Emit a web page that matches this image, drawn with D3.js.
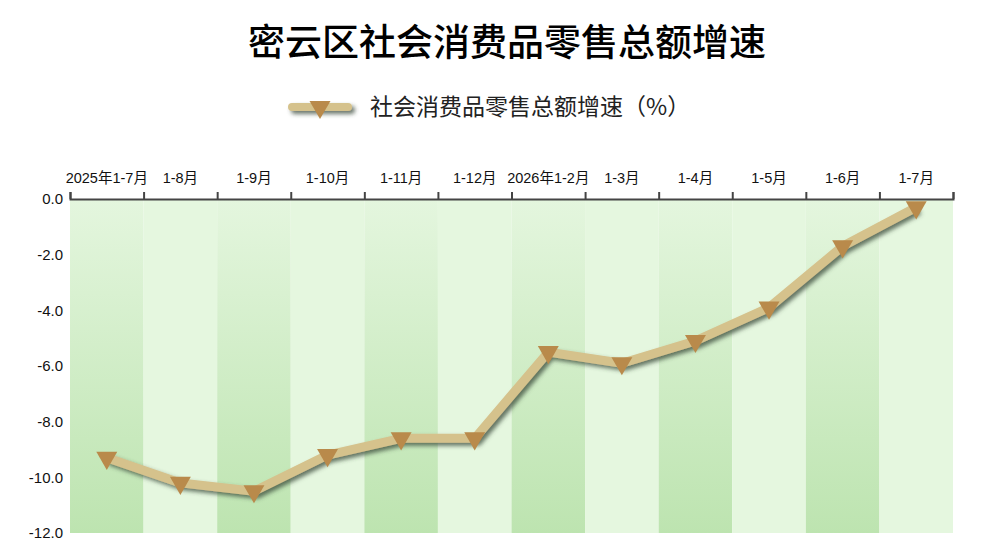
<!DOCTYPE html>
<html>
<head>
<meta charset="utf-8">
<script src="https://cdn.jsdelivr.net/npm/d3@7"></script>
<style>
  body { margin: 0; background: #fff; }
  svg { display: block; }
</style>
</head>
<body>
<svg width="987" height="557"></svg>
<script>
// data
var months = ["2025年1-7月", "1-8月", "1-9月", "1-10月", "1-11月", "1-12月",
              "2026年1-2月", "1-3月", "1-4月", "1-5月", "1-6月", "1-7月"];
var growth = [-9.3, -10.2, -10.5, -9.2, -8.6, -8.6, -5.5, -5.9, -5.1, -3.9, -1.7, -0.3];
var yTicks = [0, -2, -4, -6, -8, -10, -12];

var title = "密云区社会消费品零售总额增速";
var seriesName = "社会消费品零售总额增速（%）";

var svg = d3.select("svg");
var plotL = 70, plotR = 953, plotT = 199, plotB = 533;

var x = d3.scaleBand().domain(months).range([plotL, plotR]).padding(0);
var y = d3.scaleLinear().domain([-12, 0]).range([plotB, plotT]);
var edge = d3.scaleLinear().domain([0, months.length]).range([plotL, plotR]);

var defs = svg.append("defs");
var grad = defs.append("linearGradient").attr("id", "band")
    .attr("x1", 0).attr("y1", 0).attr("x2", 0).attr("y2", 1);
grad.append("stop").attr("offset", "0%").attr("stop-color", "#e4f6de");
grad.append("stop").attr("offset", "100%").attr("stop-color", "#bde4b0");

var shadow = defs.append("filter").attr("id", "shadow")
    .attr("filterUnits", "userSpaceOnUse")
    .attr("x", -500).attr("y", -300).attr("width", 2000).attr("height", 1200);
shadow.append("feDropShadow").attr("dx", 3).attr("dy", 3).attr("stdDeviation", 2)
    .attr("flood-color", "#3a4a3a").attr("flood-opacity", 0.75);

// title + legend
svg.append("text").attr("x", 507).attr("y", 56).attr("text-anchor", "middle")
    .style("font-family", "'Noto Sans CJK SC'").style("font-size", "37px")
    .style("font-weight", 500).attr("fill", "#000").text(title);

var lg = svg.append("g").attr("transform", "translate(320,107)");
lg.append("line").attr("x1", -28).attr("x2", 28)
    .attr("stroke", "#d5c28c").attr("stroke-width", 8).attr("stroke-linecap", "round")
    .attr("filter", "url(#shadow)");
lg.append("path").attr("d", d3.symbol(d3.symbolTriangle, 190)())
    .attr("transform", "rotate(180)").attr("fill", "#b98a4b");
svg.append("text").attr("x", 370).attr("y", 115)
    .style("font-family", "'Noto Sans CJK SC'").style("font-size", "23px")
    .attr("fill", "#222").text(seriesName);

// background bands
svg.append("g").selectAll("rect").data(months).enter().append("rect")
    .attr("x", function(d) { return x(d); })
    .attr("y", plotT)
    .attr("width", x.bandwidth())
    .attr("height", plotB - plotT)
    .attr("fill", function(d, i) { return i % 2 == 0 ? "url(#band)" : "#e5f7df"; });

// top axis: boundary ticks + labels
svg.append("g").attr("transform", "translate(0," + plotT + ")")
    .call(d3.axisTop(edge).tickValues(d3.range(months.length + 1)).tickSize(7).tickFormat(""))
    .call(function(g) {
      g.selectAll("path, line").attr("stroke", "#444").attr("stroke-width", 2);
    });

svg.append("g").attr("transform", "translate(0," + (plotT - 13) + ")")
    .call(d3.axisTop(x).tickSize(0))
    .call(function(g) {
      g.select(".domain").remove();
      g.selectAll("text").style("font-family", "Arial, 'Liberation Sans', 'Noto Sans CJK SC'")
        .style("font-size", "14.5px").attr("fill", "#111");
    });

// left axis labels
svg.append("g").attr("transform", "translate(" + (plotL - 4) + ",0)")
    .call(d3.axisLeft(y).tickValues(yTicks).tickSize(0)
      .tickFormat(function(d) { return d.toFixed(1); }))
    .call(function(g) {
      g.select(".domain").remove();
      g.selectAll("text").style("font-family", "Arial, 'Liberation Sans'")
        .style("font-size", "15px").attr("fill", "#111");
    });

// series
var pts = months.map(function(m, i) { return [x(m) + x.bandwidth() / 2, y(growth[i])]; });

svg.append("path").datum(pts)
    .attr("d", d3.line())
    .attr("fill", "none")
    .attr("stroke", "#d5c28c")
    .attr("stroke-width", 9)
    .attr("stroke-linejoin", "round")
    .attr("filter", "url(#shadow)");

svg.append("g").selectAll("path").data(pts).enter().append("path")
    .attr("d", d3.symbol(d3.symbolTriangle, 190)())
    .attr("transform", function(d) { return "translate(" + d[0] + "," + d[1] + ") rotate(180)"; })
    .attr("fill", "#b98a4b");
</script>
</body>
</html>
